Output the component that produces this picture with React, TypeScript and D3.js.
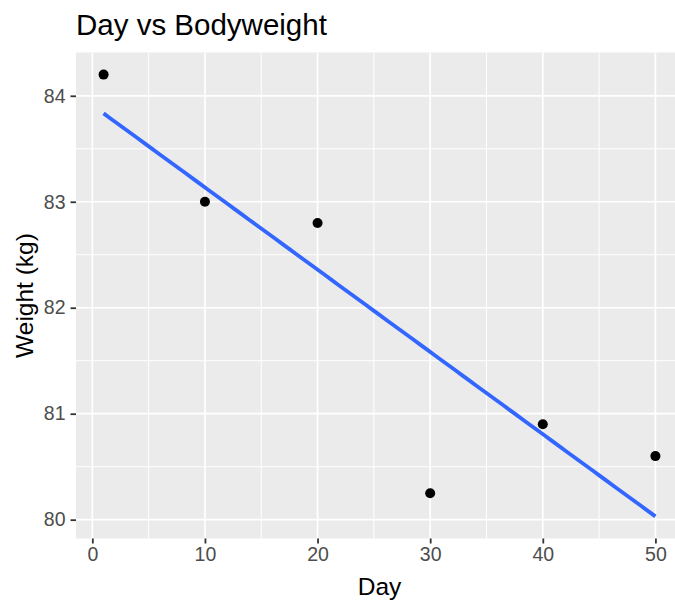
import React, { useEffect, useRef } from "react";
import * as d3 from "d3";

// measurements
const days = [1, 10, 20, 30, 40, 50];
const weights = [84.2, 83.0, 82.8, 80.25, 80.9, 80.6];
const xTicks = [0, 10, 20, 30, 40, 50];
const yTicks = [80, 81, 82, 83, 84];

const width = 675;
const height = 600;
const margin = { top: 52.5, right: -8, bottom: 61.5, left: 76 };
const font = "'Liberation Sans', Arial, sans-serif";

// plain least squares fit, like geom_smooth(method = "lm")
const fitLine = (xs: number[], ys: number[]) => {
  const mx = d3.mean(xs) as number;
  const my = d3.mean(ys) as number;
  let sxy = 0;
  let sxx = 0;
  xs.forEach((x, i) => {
    sxy += (x - mx) * (ys[i] - my);
    sxx += (x - mx) * (x - mx);
  });
  const slope = sxy / sxx;
  return (x: number) => my + slope * (x - mx);
};

const expand = (lo: number, hi: number) => {
  const pad = (hi - lo) * 0.05;
  return [lo - pad, hi + pad];
};

const App = () => {
  const ref = useRef<SVGSVGElement>(null);

  useEffect(() => {
    const svg = d3.select(ref.current);
    svg.selectAll("*").remove();

    const fit = fitLine(days, weights);
    const xExt = d3.extent(days) as [number, number];
    const fitted = d3.range(xExt[0], xExt[1] + 0.001, (xExt[1] - xExt[0]) / 80).map(d => [d, fit(d)]);
    const allY = weights.concat(fitted.map(d => d[1]));
    const yExt = d3.extent(allY) as [number, number];

    const x = d3
      .scaleLinear()
      .domain(expand(xExt[0], xExt[1]))
      .range([margin.left, width - margin.right]);
    const y = d3
      .scaleLinear()
      .domain(expand(yExt[0], yExt[1]))
      .range([height - margin.bottom, margin.top]);

    const [x0, x1] = x.range();
    const [y0, y1] = y.range();

    svg
      .append("rect")
      .attr("x", x0)
      .attr("y", y1)
      .attr("width", x1 - x0)
      .attr("height", y0 - y1)
      .attr("fill", "#EBEBEB");

    const xMinor = xTicks.slice(0, -1).map((d, i) => (d + xTicks[i + 1]) / 2);
    const yMinor = yTicks.slice(0, -1).map((d, i) => (d + yTicks[i + 1]) / 2);

    const grid = svg.append("g").attr("stroke", "#fff").attr("fill", "none");
    xMinor.forEach(d =>
      grid.append("line").attr("x1", x(d)).attr("x2", x(d)).attr("y1", y0).attr("y2", y1).attr("stroke-width", 1)
    );
    yMinor.forEach(d =>
      grid.append("line").attr("y1", y(d)).attr("y2", y(d)).attr("x1", x0).attr("x2", x1).attr("stroke-width", 1)
    );
    xTicks.forEach(d =>
      grid.append("line").attr("x1", x(d)).attr("x2", x(d)).attr("y1", y0).attr("y2", y1).attr("stroke-width", 1.7)
    );
    yTicks.forEach(d =>
      grid.append("line").attr("y1", y(d)).attr("y2", y(d)).attr("x1", x0).attr("x2", x1).attr("stroke-width", 1.7)
    );

    // smooth line
    svg
      .append("path")
      .datum(fitted)
      .attr("fill", "none")
      .attr("stroke", "#3366FF")
      .attr("stroke-width", 3.8)
      .attr("d", d3.line().x(d => x(d[0])).y(d => y(d[1])));

    svg
      .append("g")
      .selectAll("circle")
      .data(days)
      .enter()
      .append("circle")
      .attr("cx", d => x(d))
      .attr("cy", (d, i) => y(weights[i]))
      .attr("r", 5)
      .attr("fill", "#000");

    // axes
    const xAxis = d3.axisBottom(x).tickValues(xTicks).tickSize(5).tickPadding(4).tickFormat(d3.format("d"));
    const yAxis = d3.axisLeft(y).tickValues(yTicks).tickSize(5.5).tickPadding(5).tickFormat(d3.format("d"));

    const gx = svg.append("g").attr("transform", `translate(0,${y0})`).call(xAxis);
    const gy = svg.append("g").attr("transform", `translate(${x0},0)`).call(yAxis);
    [gx, gy].forEach(g => {
      g.select(".domain").remove();
      g.selectAll(".tick line").attr("stroke", "#333").attr("stroke-width", 1.8);
      g.selectAll(".tick text")
        .attr("fill", "#4D4D4D")
        .style("font-family", font)
        .style("font-size", "19.5px");
    });

    svg
      .append("text")
      .attr("x", (x0 + x1) / 2)
      .attr("y", 595)
      .attr("text-anchor", "middle")
      .style("font-family", font)
      .style("font-size", "24.5px")
      .attr("fill", "#000")
      .text("Day");

    svg
      .append("text")
      .attr("transform", `translate(33,${(y0 + y1) / 2}) rotate(-90)`)
      .attr("text-anchor", "middle")
      .style("font-family", font)
      .style("font-size", "24.5px")
      .attr("fill", "#000")
      .text("Weight (kg)");

    svg
      .append("text")
      .attr("x", x0)
      .attr("y", 35)
      .style("font-family", font)
      .style("font-size", "29.5px")
      .attr("fill", "#000")
      .text("Day vs Bodyweight");
  }, []);

  return (
    <svg
      ref={ref}
      width={width}
      height={height}
      style={{ position: "absolute", left: 0, top: 0, background: "#fff" }}
    />
  );
};

export default App;
